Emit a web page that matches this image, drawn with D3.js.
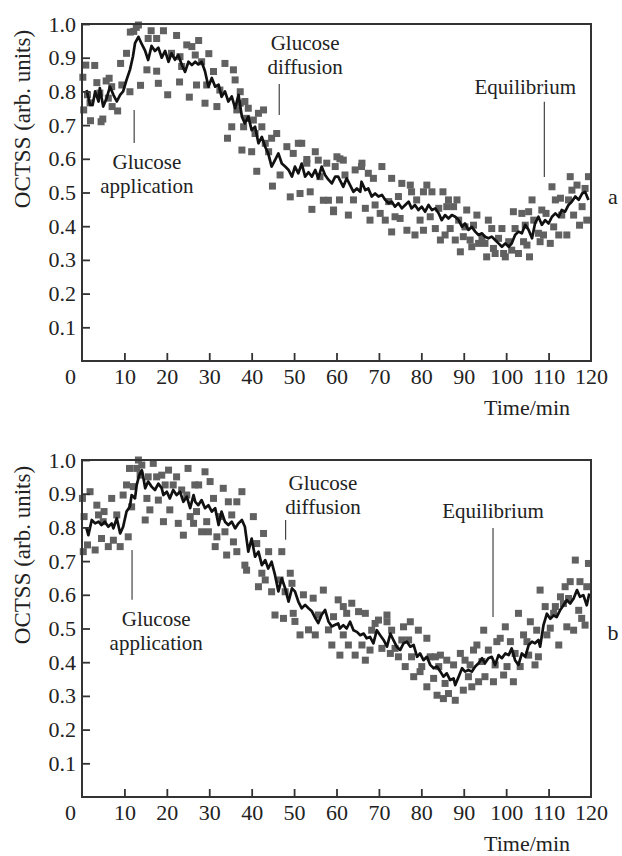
<!DOCTYPE html>
<html>
<head>
<meta charset="utf-8">
<script src="https://cdn.jsdelivr.net/npm/d3@7"></script>
<style>
  body { margin: 0; background: #fff; }
  text { font-family: "Liberation Serif", "Times New Roman", serif; fill: #222; }
</style>
</head>
<body>
<div id="chart"></div>
<script>
// mean curve, panel a  [time (min), OCTSS]
var lineA = [
  [1.1,0.804],[1.9,0.76],[2.5,0.76],[3.1,0.80],[3.9,0.77],[4.2,0.81],[5.0,0.755],[5.8,0.78],
  [6.6,0.814],[7.4,0.79],[8.2,0.77],[9.0,0.79],[9.7,0.80],[10.5,0.834],[11.3,0.864],[12.0,0.903],
  [12.5,0.943],[13.3,0.962],[14.1,0.94],[14.9,0.92],[15.6,0.893],[16.4,0.935],[17.2,0.92],[18.0,0.93],
  [18.8,0.90],[19.6,0.92],[20.4,0.888],[21.1,0.913],[21.9,0.894],[22.7,0.908],[23.5,0.88],[24.3,0.858],
  [25.1,0.888],[25.9,0.878],[26.7,0.888],[27.4,0.88],[28.2,0.888],[29.0,0.86],[29.8,0.814],[30.6,0.84],
  [31.4,0.814],[32.2,0.82],[32.9,0.784],[33.7,0.80],[34.5,0.77],[35.3,0.785],[36.1,0.75],[36.9,0.79],
  [37.7,0.725],[38.4,0.705],[39.2,0.725],[40.0,0.685],[40.8,0.695],[41.6,0.646],[42.4,0.665],[43.2,0.635],
  [43.9,0.616],[44.7,0.577],[45.5,0.596],[46.3,0.616],[47.1,0.586],[47.9,0.577],[48.7,0.567],[49.5,0.547],
  [50.2,0.577],[51.0,0.557],[51.8,0.586],[52.6,0.547],[53.4,0.56],[54.2,0.547],[55.0,0.567],[55.7,0.542],
  [56.5,0.577],[57.3,0.552],[58.1,0.538],[58.9,0.527],[59.7,0.547],[60.4,0.547],[60.8,0.537],[61.6,0.517],
  [62.4,0.542],[63.2,0.522],[64.0,0.502],[64.8,0.512],[65.6,0.502],[65.9,0.532],[66.8,0.507],[67.5,0.512],
  [68.3,0.488],[69.1,0.497],[69.9,0.488],[70.7,0.493],[71.5,0.478],[72.3,0.468],[73.0,0.473],[73.8,0.458],
  [74.6,0.468],[75.4,0.453],[76.2,0.463],[77.0,0.473],[77.7,0.453],[78.5,0.463],[79.3,0.448],[80.1,0.458],
  [80.9,0.443],[81.7,0.463],[82.5,0.448],[83.3,0.453],[84.1,0.438],[84.8,0.418],[85.6,0.433],[86.4,0.423],
  [87.2,0.433],[88.0,0.428],[88.8,0.418],[89.6,0.398],[90.3,0.408],[91.1,0.389],[91.9,0.398],[92.7,0.384],
  [93.5,0.374],[94.3,0.379],[95.0,0.369],[95.8,0.364],[96.6,0.369],[97.4,0.359],[98.2,0.349],[99.0,0.339],
  [99.8,0.349],[100.6,0.339],[101.3,0.349],[102.1,0.374],[102.9,0.384],[103.7,0.379],[104.5,0.404],[105.3,0.389],
  [106.1,0.364],[106.8,0.408],[107.6,0.428],[108.4,0.404],[109.2,0.418],[110.0,0.408],[110.8,0.428],[111.6,0.438],
  [112.4,0.428],[113.1,0.448],[113.9,0.443],[114.7,0.463],[115.5,0.473],[116.3,0.488],[117.1,0.478],[117.9,0.497],
  [118.6,0.502],[119.4,0.478]
];

// individual measurements, panel a
var dotsA = [
  [0.2,0.842],[0.4,0.745],[0.9,0.878],[1.3,0.79],[1.9,0.766],[2.0,0.713],[3.0,0.877],[3.5,0.826],
  [4.2,0.795],[4.5,0.710],[4.9,0.718],[5.7,0.831],[6.4,0.839],[6.2,0.780],[7.0,0.814],[7.1,0.755],
  [8.4,0.742],[9.1,0.883],[9.4,0.819],[10.5,0.913],[11.3,0.799],[11.4,0.976],[12.2,0.978],[12.8,0.99],
  [13.3,0.997],[13.8,0.818],[15.3,0.864],[15.6,0.957],[16.3,0.98],[17.6,0.957],[17.6,0.86],[18.0,0.824],
  [19.2,0.98],[20.2,0.79],[21.1,0.913],[22.3,0.966],[23.0,0.828],[23.1,0.903],[23.5,0.874],[24.7,0.938],
  [25.3,0.783],[25.9,0.933],[26.7,0.908],[27.0,0.819],[27.5,0.951],[28.2,0.888],[29.0,0.765],[29.4,0.819],
  [29.9,0.912],[31.0,0.859],[31.8,0.755],[32.5,0.804],[33.7,0.883],[34.3,0.661],[35.3,0.695],[35.7,0.864],
  [36.1,0.834],[36.5,0.745],[37.3,0.765],[37.3,0.799],[37.7,0.626],[38.1,0.695],[38.4,0.770],[38.8,0.720],
  [39.2,0.750],[40.0,0.621],[40.4,0.715],[40.8,0.675],[41.2,0.563],[41.6,0.735],[42.4,0.695],[42.8,0.745],
  [43.2,0.646],[44.0,0.621],[44.7,0.661],[44.9,0.519],[45.9,0.675],[46.7,0.552],[48.3,0.636],[49.1,0.487],
  [49.8,0.616],[51.0,0.646],[51.4,0.497],[51.8,0.646],[53.0,0.587],[53.0,0.598],[53.8,0.502],[54.2,0.45],
  [55.0,0.621],[55.7,0.596],[56.1,0.547],[56.9,0.477],[57.7,0.587],[58.1,0.477],[59.3,0.443],[59.7,0.577],
  [60.1,0.606],[60.8,0.60],[59.3,0.448],[60.7,0.478],[61.6,0.596],[62.0,0.552],[62.8,0.433],[64.0,0.478],
  [64.4,0.567],[65.9,0.577],[66.0,0.587],[66.8,0.453],[67.5,0.557],[67.9,0.418],[68.7,0.542],[69.1,0.463],
  [70.3,0.438],[70.7,0.577],[71.5,0.418],[72.3,0.473],[73.0,0.542],[73.0,0.383],[73.8,0.428],[74.6,0.488],
  [75.0,0.423],[75.4,0.527],[76.6,0.388],[77.4,0.522],[77.7,0.502],[78.5,0.374],[78.9,0.478],[79.7,0.418],
  [80.5,0.388],[80.5,0.502],[81.3,0.522],[82.1,0.428],[82.5,0.502],[83.3,0.393],[84.1,0.453],[84.5,0.359],
  [85.1,0.502],[85.6,0.374],[86.0,0.458],[86.4,0.478],[86.8,0.393],[87.6,0.458],[88.0,0.359],[88.4,0.478],
  [88.8,0.418],[89.2,0.324],[89.9,0.369],[90.3,0.398],[90.7,0.448],[91.5,0.359],[91.9,0.339],[92.3,0.403],
  [93.1,0.433],[93.5,0.349],[94.3,0.364],[95.0,0.349],[95.4,0.309],[95.8,0.418],[96.6,0.393],[97.0,0.334],
  [97.4,0.319],[98.2,0.364],[99.0,0.393],[99.4,0.319],[99.8,0.309],[100.6,0.354],[101.3,0.329],[101.7,0.443],
  [102.1,0.393],[102.9,0.319],[103.7,0.438],[104.1,0.354],[104.5,0.403],[104.9,0.344],[105.3,0.443],[105.5,0.309],
  [106.1,0.478],[106.5,0.418],[107.6,0.379],[108.0,0.354],[108.4,0.448],[108.8,0.374],[109.4,0.438],[110.4,0.349],
  [110.8,0.517],[111.2,0.398],[111.6,0.478],[112.4,0.374],[112.8,0.483],[113.1,0.433],[114.3,0.374],[114.7,0.478],
  [115.1,0.547],[115.5,0.507],[115.9,0.433],[116.7,0.522],[117.3,0.403],[117.9,0.458],[118.6,0.512],[119.0,0.418],
  [119.4,0.547]
];

// mean curve, panel b
var lineB = [
  [1.0,0.80],[1.5,0.777],[2.3,0.822],[3.1,0.812],[3.9,0.817],[4.6,0.807],[5.4,0.817],[6.2,0.802],
  [7.0,0.812],[7.4,0.797],[8.2,0.827],[9.0,0.782],[9.7,0.802],[10.5,0.847],[11.3,0.862],[11.7,0.896],
  [12.5,0.886],[12.9,0.926],[13.5,0.955],[14.1,0.970],[14.5,0.945],[14.9,0.916],[15.6,0.936],[16.4,0.921],
  [17.2,0.911],[18.0,0.930],[18.8,0.916],[19.2,0.896],[20.0,0.906],[20.7,0.886],[21.5,0.911],[22.3,0.896],
  [23.1,0.906],[23.9,0.876],[24.7,0.891],[25.5,0.857],[26.3,0.896],[26.7,0.876],[27.4,0.866],[28.2,0.881],
  [29.0,0.857],[29.8,0.866],[30.6,0.847],[31.4,0.857],[32.2,0.807],[32.9,0.847],[33.7,0.817],[34.5,0.807],
  [35.3,0.817],[36.1,0.797],[36.9,0.812],[37.7,0.822],[38.4,0.802],[39.2,0.728],[40.0,0.767],[40.8,0.713],
  [41.6,0.728],[42.4,0.688],[43.2,0.703],[43.9,0.678],[44.7,0.698],[45.5,0.659],[46.3,0.610],[47.1,0.649],
  [47.9,0.619],[48.7,0.580],[49.5,0.619],[50.2,0.610],[51.0,0.580],[51.8,0.560],[52.6,0.570],[53.4,0.560],
  [54.2,0.551],[55.0,0.531],[55.7,0.516],[56.5,0.541],[57.3,0.555],[58.1,0.521],[58.9,0.506],[59.7,0.511],
  [60.4,0.515],[60.8,0.500],[61.6,0.510],[62.4,0.500],[63.2,0.520],[64.0,0.495],[64.8,0.490],[65.6,0.480],
  [66.4,0.485],[67.1,0.471],[67.9,0.475],[68.7,0.456],[69.5,0.495],[70.3,0.480],[71.1,0.466],[71.9,0.446],
  [72.7,0.485],[73.4,0.466],[74.2,0.446],[75.0,0.436],[75.8,0.456],[76.6,0.461],[77.4,0.446],[78.2,0.451],
  [79.0,0.416],[79.7,0.426],[80.5,0.406],[81.3,0.416],[82.1,0.392],[82.9,0.382],[83.7,0.387],[84.5,0.372],
  [85.2,0.357],[86.0,0.367],[86.8,0.347],[87.6,0.352],[88.0,0.332],[88.8,0.357],[89.6,0.382],[90.3,0.372],
  [91.1,0.377],[91.9,0.372],[92.7,0.387],[93.5,0.397],[94.3,0.412],[95.0,0.397],[95.8,0.412],[96.6,0.416],
  [97.4,0.392],[98.2,0.421],[99.0,0.412],[99.8,0.426],[100.6,0.421],[101.3,0.441],[102.1,0.406],[102.9,0.392],
  [103.7,0.426],[104.5,0.416],[105.3,0.451],[106.1,0.461],[106.8,0.456],[107.6,0.466],[108.0,0.446],[108.8,0.510],
  [109.6,0.544],[110.4,0.529],[111.2,0.539],[111.9,0.534],[112.7,0.554],[113.5,0.569],[114.3,0.584],[115.1,0.574],
  [115.9,0.589],[116.7,0.614],[117.4,0.594],[118.2,0.599],[119.0,0.569],[119.6,0.604]
];

// individual measurements, panel b
var dotsB = [
  [0.1,0.886],[0.3,0.728],[0.5,0.832],[1.3,0.748],[1.9,0.906],[3.1,0.733],[3.5,0.866],[3.9,0.837],
  [4.6,0.767],[5.0,0.817],[5.2,0.847],[6.2,0.743],[7.0,0.886],[7.4,0.762],[8.2,0.837],[9.0,0.743],
  [9.7,0.896],[10.5,0.926],[10.9,0.772],[11.2,0.975],[11.7,0.861],[12.1,0.921],[12.9,0.975],[13.3,1.0],
  [13.7,0.955],[14.1,0.985],[14.9,0.822],[15.3,0.886],[15.6,0.950],[16.0,0.852],[16.8,0.990],[17.6,0.950],
  [18.0,0.881],[18.8,0.955],[19.2,0.817],[19.6,0.926],[20.4,0.970],[20.7,0.852],[21.5,0.926],[22.3,0.950],
  [22.7,0.812],[23.5,0.911],[23.9,0.777],[24.7,0.896],[25.0,0.975],[25.5,0.832],[26.3,0.812],[26.6,0.926],
  [27.0,0.847],[27.5,0.926],[28.2,0.787],[29.0,0.965],[29.4,0.817],[29.8,0.787],[30.2,0.936],[31.0,0.886],
  [31.4,0.743],[31.8,0.772],[32.5,0.832],[33.3,0.916],[33.7,0.787],[34.1,0.718],[34.5,0.876],[35.3,0.837],
  [35.7,0.757],[36.5,0.876],[36.5,0.728],[37.7,0.906],[38.4,0.688],[38.8,0.673],[40.4,0.832],[41.2,0.752],
  [41.6,0.624],[42.4,0.664],[42.8,0.782],[43.2,0.644],[44.0,0.728],[44.7,0.609],[45.5,0.540],[46.7,0.644],
  [47.1,0.728],[47.5,0.530],[47.9,0.609],[49.1,0.664],[49.5,0.634],[49.8,0.545],[50.2,0.521],[51.4,0.481],
  [52.2,0.600],[53.4,0.496],[54.5,0.590],[55.0,0.481],[55.7,0.540],[56.9,0.614],[58.1,0.496],[58.9,0.451],
  [59.3,0.535],[60.4,0.585],[60.8,0.421],[61.6,0.565],[61.6,0.481],[62.4,0.545],[62.8,0.451],[63.6,0.575],
  [64.4,0.421],[65.2,0.550],[66.0,0.451],[66.8,0.545],[66.8,0.406],[67.9,0.436],[68.3,0.495],[69.1,0.515],
  [69.9,0.525],[70.7,0.441],[71.9,0.540],[71.9,0.520],[72.7,0.426],[73.0,0.495],[73.8,0.441],[74.6,0.416],
  [75.4,0.466],[75.8,0.505],[76.2,0.387],[77.0,0.466],[77.4,0.520],[77.7,0.416],[78.2,0.357],[79.3,0.495],
  [79.7,0.372],[80.1,0.387],[81.3,0.471],[81.3,0.327],[82.1,0.416],[82.9,0.352],[83.3,0.416],[83.7,0.302],
  [84.1,0.387],[84.5,0.421],[85.2,0.292],[85.6,0.337],[86.0,0.406],[86.4,0.307],[87.6,0.392],[88.0,0.287],
  [89.2,0.426],[89.9,0.317],[90.3,0.406],[91.1,0.357],[91.5,0.392],[91.9,0.327],[92.3,0.436],[93.1,0.451],
  [93.5,0.342],[94.3,0.402],[94.7,0.495],[95.0,0.357],[95.8,0.436],[97.0,0.342],[97.4,0.392],[97.8,0.461],
  [98.6,0.471],[99.4,0.362],[99.8,0.505],[100.2,0.387],[101.0,0.461],[101.7,0.342],[102.1,0.426],[102.9,0.545],
  [103.3,0.387],[104.1,0.481],[104.9,0.461],[105.3,0.421],[105.7,0.520],[106.8,0.392],[107.2,0.495],[107.6,0.416],
  [108.0,0.614],[109.2,0.565],[109.6,0.481],[110.4,0.501],[111.2,0.545],[111.6,0.565],[112.4,0.451],[112.8,0.594],
  [113.5,0.574],[113.9,0.624],[114.3,0.505],[114.7,0.589],[115.1,0.639],[115.9,0.495],[116.3,0.703],[117.1,0.554],
  [117.4,0.639],[117.8,0.530],[118.6,0.510],[119.0,0.624],[119.4,0.693]
];

var xTicks = [0, 10, 20, 30, 40, 50, 60, 70, 80, 90, 100, 110, 120];
var yTicks = [0.1, 0.2, 0.3, 0.4, 0.5, 0.6, 0.7, 0.8, 0.9, 1.0];

// annotation text (first baseline) + pointer line, in data units (time, OCTSS)
var notesA = [
  {lines: ['Glucose', 'application'], t: 15.3, v: 0.570, lt: 12.3, lv: [0.745, 0.647]},
  {lines: ['Glucose', 'diffusion'], t: 52.6, v: 0.922, lt: 46.5, lv: [0.822, 0.730]},
  {lines: ['Equilibrium'], t: 104.5, v: 0.792, lt: 109, lv: [0.769, 0.546]}
];
var notesB = [
  {lines: ['Glucose', 'application'], t: 17.5, v: 0.508, lt: 11.8, lv: [0.733, 0.585]},
  {lines: ['Glucose', 'diffusion'], t: 56.8, v: 0.910, lt: 48.0, lv: [0.822, 0.763]},
  {lines: ['Equilibrium'], t: 96.9, v: 0.828, lt: 96.9, lv: [0.798, 0.534]}
];

var width = 622;
var height = 856;
var left = 82;
var right = 591;
var plotH = 337;
var fontSize = 22;

var svg = d3.select('#chart')
    .append('svg')
    .attr('width', width)
    .attr('height', height);

var panels = [
  {top: 24, line: lineA, dots: dotsA, notes: notesA, letter: 'a'},
  {top: 460, line: lineB, dots: dotsB, notes: notesB, letter: 'b'}
];

panels.forEach(function(p) {
  var g = svg.append('g');

  var x = d3.scaleLinear().domain([0, 120]).range([left, right]);
  var y = d3.scaleLinear().domain([0, 1]).range([p.top + plotH, p.top]);

  // scatter squares
  var s = 7;
  g.selectAll('rect.dot')
      .data(p.dots)
      .enter()
      .append('rect')
      .attr('class', 'dot')
      .attr('x', function(d) { return x(d[0]) - s / 2; })
      .attr('y', function(d) { return y(d[1]) - s / 2; })
      .attr('width', s)
      .attr('height', s)
      .attr('fill', '#616161');

  // mean curve
  var line = d3.line()
      .x(function(d) { return x(d[0]); })
      .y(function(d) { return y(d[1]); });

  g.append('path')
      .datum(p.line)
      .attr('d', line)
      .attr('fill', 'none')
      .attr('stroke', '#111')
      .attr('stroke-width', 2.7)
      .attr('stroke-linejoin', 'round');

  // axes, ticks pointing inward
  var xAxis = g.append('g')
      .attr('transform', 'translate(0,' + (p.top + plotH) + ')')
      .call(d3.axisBottom(x).tickValues(xTicks).tickSize(-8).tickSizeOuter(0).tickPadding(7));

  var yAxis = g.append('g')
      .attr('transform', 'translate(' + left + ',0)')
      .call(d3.axisLeft(y).tickValues(yTicks).tickSize(-8).tickSizeOuter(0).tickPadding(6)
          .tickFormat(d3.format('.1f')));

  [xAxis, yAxis].forEach(function(ax) {
    ax.select('.domain').remove();
    ax.selectAll('line').attr('stroke', '#333').attr('stroke-width', 1.8);
    ax.selectAll('text')
        .style('font-family', '"Liberation Serif", "Times New Roman", serif')
        .style('font-size', fontSize + 'px')
        .attr('fill', '#222');
  });
  xAxis.selectAll('.tick').filter(function(d) { return d === 0 || d === 120; })
      .select('line').remove();
  xAxis.selectAll('.tick').filter(function(d) { return d === 0; })
      .select('text').attr('x', -12);

  // frame
  g.append('rect')
      .attr('x', left)
      .attr('y', p.top)
      .attr('width', right - left)
      .attr('height', plotH)
      .attr('fill', 'none')
      .attr('stroke', '#333')
      .attr('stroke-width', 2);

  // annotations
  p.notes.forEach(function(n) {
    g.append('line')
        .attr('x1', x(n.lt)).attr('x2', x(n.lt))
        .attr('y1', y(n.lv[0])).attr('y2', y(n.lv[1]))
        .attr('stroke', '#444')
        .attr('stroke-width', 1.2);
    n.lines.forEach(function(txt, i) {
      g.append('text')
          .attr('x', x(n.t))
          .attr('y', y(n.v) + i * 24)
          .attr('text-anchor', 'middle')
          .style('font-size', (fontSize - 1) + 'px')
          .text(txt);
    });
  });

  // axis titles and panel letter
  g.append('text')
      .attr('transform', 'translate(22,' + (p.top + 95) + ') rotate(-90)')
      .attr('text-anchor', 'middle')
      .attr('dy', '0.35em')
      .style('font-size', (fontSize + 1) + 'px')
      .text('OCTSS (arb. units)');

  g.append('text')
      .attr('x', 527)
      .attr('y', p.top + plotH + 54)
      .attr('text-anchor', 'middle')
      .style('font-size', fontSize + 'px')
      .text('Time/min');

  g.append('text')
      .attr('x', 613)
      .attr('y', p.top + 180)
      .attr('text-anchor', 'middle')
      .style('font-size', fontSize + 'px')
      .text(p.letter);
});
</script>
</body>
</html>
